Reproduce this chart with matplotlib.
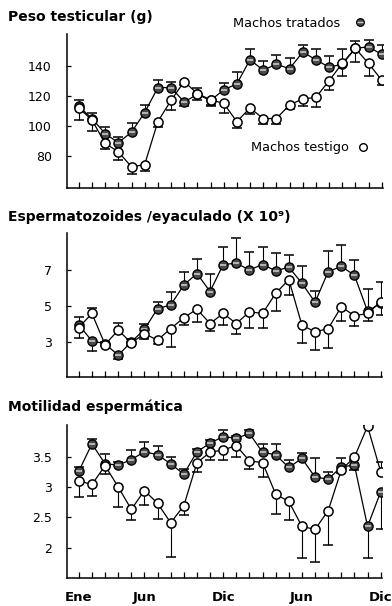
import numpy as np
import matplotlib
matplotlib.use("Agg")
import matplotlib.pyplot as plt

plt.rcParams["font.family"] = ["DejaVu Sans"]

# Monthly sampling over two years
months = list(range(24))
month_ticks = [0, 5, 11, 17, 23]
month_labels = ["Ene", "Jun", "Dic", "Jun", "Dic"]

# Peso testicular (g); errors: positive = bar upward, negative = bar downward
peso_tratados = [113, 105, 95, 89, 96, 109, 125.5, 125.5, 116, 121, 117, 124,
                 128, 144, 137, 141, 138, 149, 144, 139, 141, 151.5, 152.5, 147.5]
peso_tratados_err = [4.5, 4, 4.5, 3.5, 6, 5, 5, 4, -3, 4.5, -3, 4.5,
                     8, 7, 6, 6, 7, 4.5, 7, 7.5, 10, 5, 4.5, 6.5]
peso_testigo = [112, 104, 88.5, 83, 73, 74.5, 103, 117, 129.5, 121.5, 117.5, 115,
                103, 112, 105, 105, 114, 118, 119, 130, 141.5, 151.5, 141.5, 130.5]
peso_testigo_err = [-8, -7, -3.5, -5.5, -4.5, -4, -3.5, -6.5, -2, -4, -4, -6,
                    -4, -4, -3.5, -3.5, -3, -5, -6.5, -6, -8.5, -9, -8.5, -3.5]
peso_yticks = [80, 100, 120, 140]
peso_ylabels = ["80", "100", "120", "140"]

# Espermatozoides / eyaculado (x 10^9)
esperm_tratados = [3.95, 3.05, 2.9, 2.26, 3.0, 3.7, 4.85, 5.05, 6.16, 6.8, 5.8, 7.3,
                   7.37, 7.0, 7.3, 6.95, 7.15, 6.26, 5.2, 6.9, 7.2, 6.7, 4.7, 5.15]
esperm_tratados_err = [0.45, -0.55, 0.12, -0.2, 0.15, 0.3, 0.37, 0.75, 0.75, 0.8, 1.0, 1.0,
                       1.43, 1.0, 1.0, 1.0, 0.7, 0.93, 0.63, 1.15, 1.2, 0.84, 1.23, 1.17]
esperm_testigo = [3.8, 4.58, 2.85, 3.65, 2.95, 3.45, 3.1, 3.74, 4.34, 4.82, 4.02, 4.58,
                  4.02, 4.67, 4.58, 5.7, 6.46, 3.93, 3.56, 3.74, 4.95, 4.45, 4.58, 5.23]
esperm_testigo_err = [-0.6, 0.3, -0.1, 0.4, -0.15, -0.3, -0.2, -1.0, -0.4, -0.7, -0.43, -0.65,
                      -0.56, -0.9, -0.8, -1.0, -0.84, -1.0, -1.0, -1.1, -0.8, -0.58, -0.43, -0.75]
esperm_yticks = [3, 5, 7]
esperm_ylabels = ["3", "5", "7"]

# Motilidad espermática
motil_tratados = [3.26, 3.71, 3.38, 3.36, 3.45, 3.58, 3.53, 3.38, 3.21, 3.58, 3.72, 3.83,
                  3.80, 3.88, 3.57, 3.53, 3.32, 3.47, 3.16, 3.13, 3.33, 3.36, 2.35, 2.92]
motil_tratados_err = [0.06, 0.08, 0.16, 0.05, 0.16, 0.16, 0.14, 0.12, 0.08, 0.04, 0.05, 0.11,
                      0.04, 0.05, 0.14, 0.18, 0.12, 0.09, 0.31, 0.12, 0.15, -0.08, -0.52, -0.62]
motil_testigo = [3.10, 3.04, 3.35, 3.0, 2.63, 2.94, 2.73, 2.41, 2.69, 3.40, 3.57, 3.61,
                 3.68, 3.43, 3.40, 2.88, 2.76, 2.35, 2.30, 2.61, 3.28, 3.49, 4.0, 3.25]
motil_testigo_err = [-0.27, -0.19, -0.13, -0.33, -0.18, -0.24, -0.26, -0.56, -0.15, -0.16, -0.12, -0.16,
                     -0.18, -0.14, -0.24, -0.32, -0.31, -0.52, -0.53, -0.57, -0.05, -0.05, 0.02, 0.16]
motil_yticks = [2, 2.5, 3, 3.5]
motil_ylabels = ["2", "2.5", "3", "3.5"]

W, H = 392, 606
fig = plt.figure(figsize=(W / 100, H / 100), dpi=100)
fig.patch.set_facecolor("white")

FILL = "#4a4a4a"
BAND = "#c8c8c8"
MS = 6.6


def frac_axes(left, top, right, bottom):
    return fig.add_axes([left / W, 1 - bottom / H, (right - left) / W, (bottom - top) / H])


def draw_errs(ax, x, y, err, z):
    x = np.asarray(x, float)
    y = np.asarray(y, float)
    err = np.asarray(err, float)
    tip = y + err
    ax.vlines(x, y, tip, colors="black", linewidth=0.8, zorder=z)
    ax.plot(x, tip, linestyle="none", marker="_", markersize=7.5,
            markeredgewidth=1.1, color="black", zorder=z)


def panel(ax, trat, trat_err, test, test_err, ylim, yticks, ylabels, show_months):
    draw_errs(ax, months, trat, trat_err, 2)
    draw_errs(ax, months, test, test_err, 2)
    ax.plot(months, trat, color="black", linewidth=0.9, zorder=3,
            marker="o", markersize=MS, markerfacecolor=FILL,
            markeredgecolor="black", markeredgewidth=1.0)
    ax.plot(months, trat, linestyle="none", marker="_", markersize=MS * 0.75,
            markeredgewidth=1.2, color=BAND, zorder=3.5)
    ax.plot(months, test, color="black", linewidth=0.9, zorder=4,
            marker="o", markersize=MS, markerfacecolor="white",
            markeredgecolor="black", markeredgewidth=1.1)
    ax.set_xlim(-0.9, 23.1)
    ax.set_ylim(*ylim)
    for s in ("top", "right"):
        ax.spines[s].set_visible(False)
    for s in ("left", "bottom"):
        ax.spines[s].set_linewidth(1.1)
    ax.set_yticks(yticks)
    ax.set_yticklabels(ylabels)
    ax.set_xticks(months)
    ax.tick_params(axis="y", direction="in", length=3, width=0.9, pad=11, labelsize=9)
    ax.tick_params(axis="x", direction="in", length=4, width=0.9, pad=9.5)
    if show_months:
        labels = [""] * len(months)
        for t, lab in zip(month_ticks, month_labels):
            labels[t] = lab
        ax.set_xticklabels(labels, fontsize=9.5, fontweight="bold")
    else:
        ax.set_xticklabels([])
    ax.patch.set_alpha(0)


ax1 = frac_axes(67, 34, 383, 188)
panel(ax1, peso_tratados, peso_tratados_err, peso_testigo, peso_testigo_err,
      (59, 161), peso_yticks, peso_ylabels, False)

ax2 = frac_axes(67, 233, 382, 377)
panel(ax2, esperm_tratados, esperm_tratados_err, esperm_testigo, esperm_testigo_err,
      (1.05, 9.05), esperm_yticks, esperm_ylabels, False)

ax3 = frac_axes(67, 425, 382, 578)
panel(ax3, motil_tratados, motil_tratados_err, motil_testigo, motil_testigo_err,
      (1.5, 4.02), motil_yticks, motil_ylabels, True)

# Panel titles
fig.text(8 / W, 1 - 21 / H, "Peso testicular (g)", fontsize=10, fontweight="bold",
         va="baseline", ha="left")
fig.text(8 / W, 1 - 221.5 / H, "Espermatozoides /eyaculado (X 10⁹)", fontsize=10,
         fontweight="bold", va="baseline", ha="left")
fig.text(8 / W, 1 - 411.5 / H, "Motilidad espermática", fontsize=10, fontweight="bold",
         va="baseline", ha="left")

# Series keys
fig.text(233 / W, 1 - 27 / H, "Machos tratados", fontsize=9.3, va="baseline", ha="left")
fig.text(251 / W, 1 - 151.5 / H, "Machos testigo", fontsize=9.3, va="baseline", ha="left")
key = fig.add_axes([0, 0, 1, 1], facecolor="none")
key.set_xlim(0, W)
key.set_ylim(H, 0)
key.axis("off")
key.plot([360], [22], marker="o", markersize=5.5, markerfacecolor=FILL,
         markeredgecolor="black", markeredgewidth=0.9, linestyle="none")
key.plot([360], [22], marker="_", markersize=4, markeredgewidth=1.0,
         color=BAND, linestyle="none")
key.plot([363], [147], marker="o", markersize=5.5, markerfacecolor="white",
         markeredgecolor="black", markeredgewidth=1.0, linestyle="none")

fig.savefig("out.png", dpi=100)
